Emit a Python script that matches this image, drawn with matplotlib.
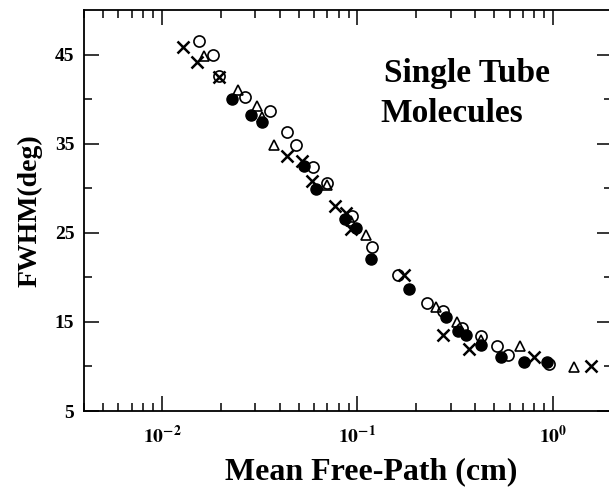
import numpy as np
import matplotlib
matplotlib.use("Agg")
import matplotlib.pyplot as plt
from matplotlib.ticker import FixedLocator, LogLocator, NullFormatter

plt.rcParams['font.family'] = ['Liberation Serif', 'DejaVu Serif']
plt.rcParams['font.weight'] = 'bold'
plt.rcParams['mathtext.fontset'] = 'stix'

# crosses
x_cross = [0.01285, 0.01517, 0.01955, 0.04345, 0.0523, 0.0583, 0.0765, 0.0871,
           0.0924, 0.172, 0.2724, 0.3727, 0.802, 1.565]
y_cross = [45.9, 44.2, 42.5, 33.6, 33.0, 30.8, 28.0, 27.2,
           25.4, 20.3, 13.5, 12.0, 11.1, 10.0]

# open circles
x_open = [0.01545, 0.01832, 0.01955, 0.02649, 0.0357, 0.0438, 0.0483, 0.0595,
          0.0700, 0.0943, 0.1193, 0.1614, 0.2264, 0.2725, 0.3407, 0.4279,
          0.515, 0.586, 0.957]
y_open = [46.5, 45.0, 42.6, 40.2, 38.7, 36.3, 34.8, 32.4,
          30.6, 26.9, 23.4, 20.3, 17.1, 16.2, 14.3, 13.4,
          12.3, 11.3, 10.3]

# filled circles
x_fill = [0.0229, 0.02843, 0.0326, 0.0533, 0.0617, 0.0864, 0.098, 0.117,
          0.1837, 0.2833, 0.3274, 0.3585, 0.428, 0.5417, 0.713, 0.932]
y_fill = [40.0, 38.2, 37.4, 32.5, 29.9, 26.5, 25.5, 22.1,
          18.7, 15.6, 14.0, 13.5, 12.4, 11.1, 10.5, 10.5]

# open triangles
x_tri = [0.01652, 0.0246, 0.03077, 0.0324, 0.0374, 0.0696, 0.0924, 0.1103,
         0.2518, 0.3225, 0.428, 0.68, 1.285]
y_tri = [44.8, 41.0, 39.2, 38.0, 34.9, 30.4, 26.3, 24.7,
         16.7, 15.0, 13.0, 12.3, 9.9]

fig = plt.figure(figsize=(6.09, 4.96), dpi=100)
ax = fig.add_axes([84/609, 1 - 411/496, (612 - 84)/609, (411 - 10)/496])

ax.plot(x_cross, y_cross, 'x', color='black', ms=8, mew=1.8, ls='none')
ax.plot(x_open, y_open, 'o', mfc='none', mec='black', ms=8, mew=1.2, ls='none')
ax.plot(x_fill, y_fill, 'o', mfc='black', mec='black', ms=8, ls='none')
ax.plot(x_tri, y_tri, '^', mfc='none', mec='black', ms=7.5, mew=1.2, ls='none')

ax.set_xscale('log')
ax.set_xlim(0.004, 2.0)
ax.set_ylim(5, 50)

ax.xaxis.set_major_locator(FixedLocator([0.01, 0.1, 1.0]))
ax.set_xticklabels([r'$\mathbf{10^{-2}}$', r'$\mathbf{10^{-1}}$', r'$\mathbf{10^{0}}$'])
ax.xaxis.set_minor_locator(LogLocator(base=10, subs=np.arange(2, 10)))
ax.xaxis.set_minor_formatter(NullFormatter())

ax.yaxis.set_major_locator(FixedLocator([5, 15, 25, 35, 45]))
ax.yaxis.set_minor_locator(FixedLocator([10, 20, 30, 40]))

ax.tick_params(which='both', direction='in', top=True, right=True, width=1.1)
ax.tick_params(which='major', length=11, labelsize=14)
ax.tick_params(axis='x', which='major', pad=10)
ax.tick_params(axis='y', which='major', pad=7)
ax.tick_params(which='minor', length=6)
for lab in ax.get_yticklabels():
    lab.set_fontweight('bold')
for s in ax.spines.values():
    s.set_linewidth(1.3)

ax.set_xlabel('Mean Free-Path (cm)', fontsize=23, fontweight='bold')
ax.xaxis.set_label_coords(0.544, -0.115)
ax.set_ylabel('FWHM(deg)', fontsize=20, fontweight='bold', labelpad=9)

ax.text(0.568, 0.82, 'Single Tube', transform=ax.transAxes, fontsize=24,
        fontweight='bold', ha='left', va='baseline')
ax.text(0.561, 0.72, 'Molecules', transform=ax.transAxes, fontsize=24,
        fontweight='bold', ha='left', va='baseline')

fig.savefig('out.png', dpi=100)
